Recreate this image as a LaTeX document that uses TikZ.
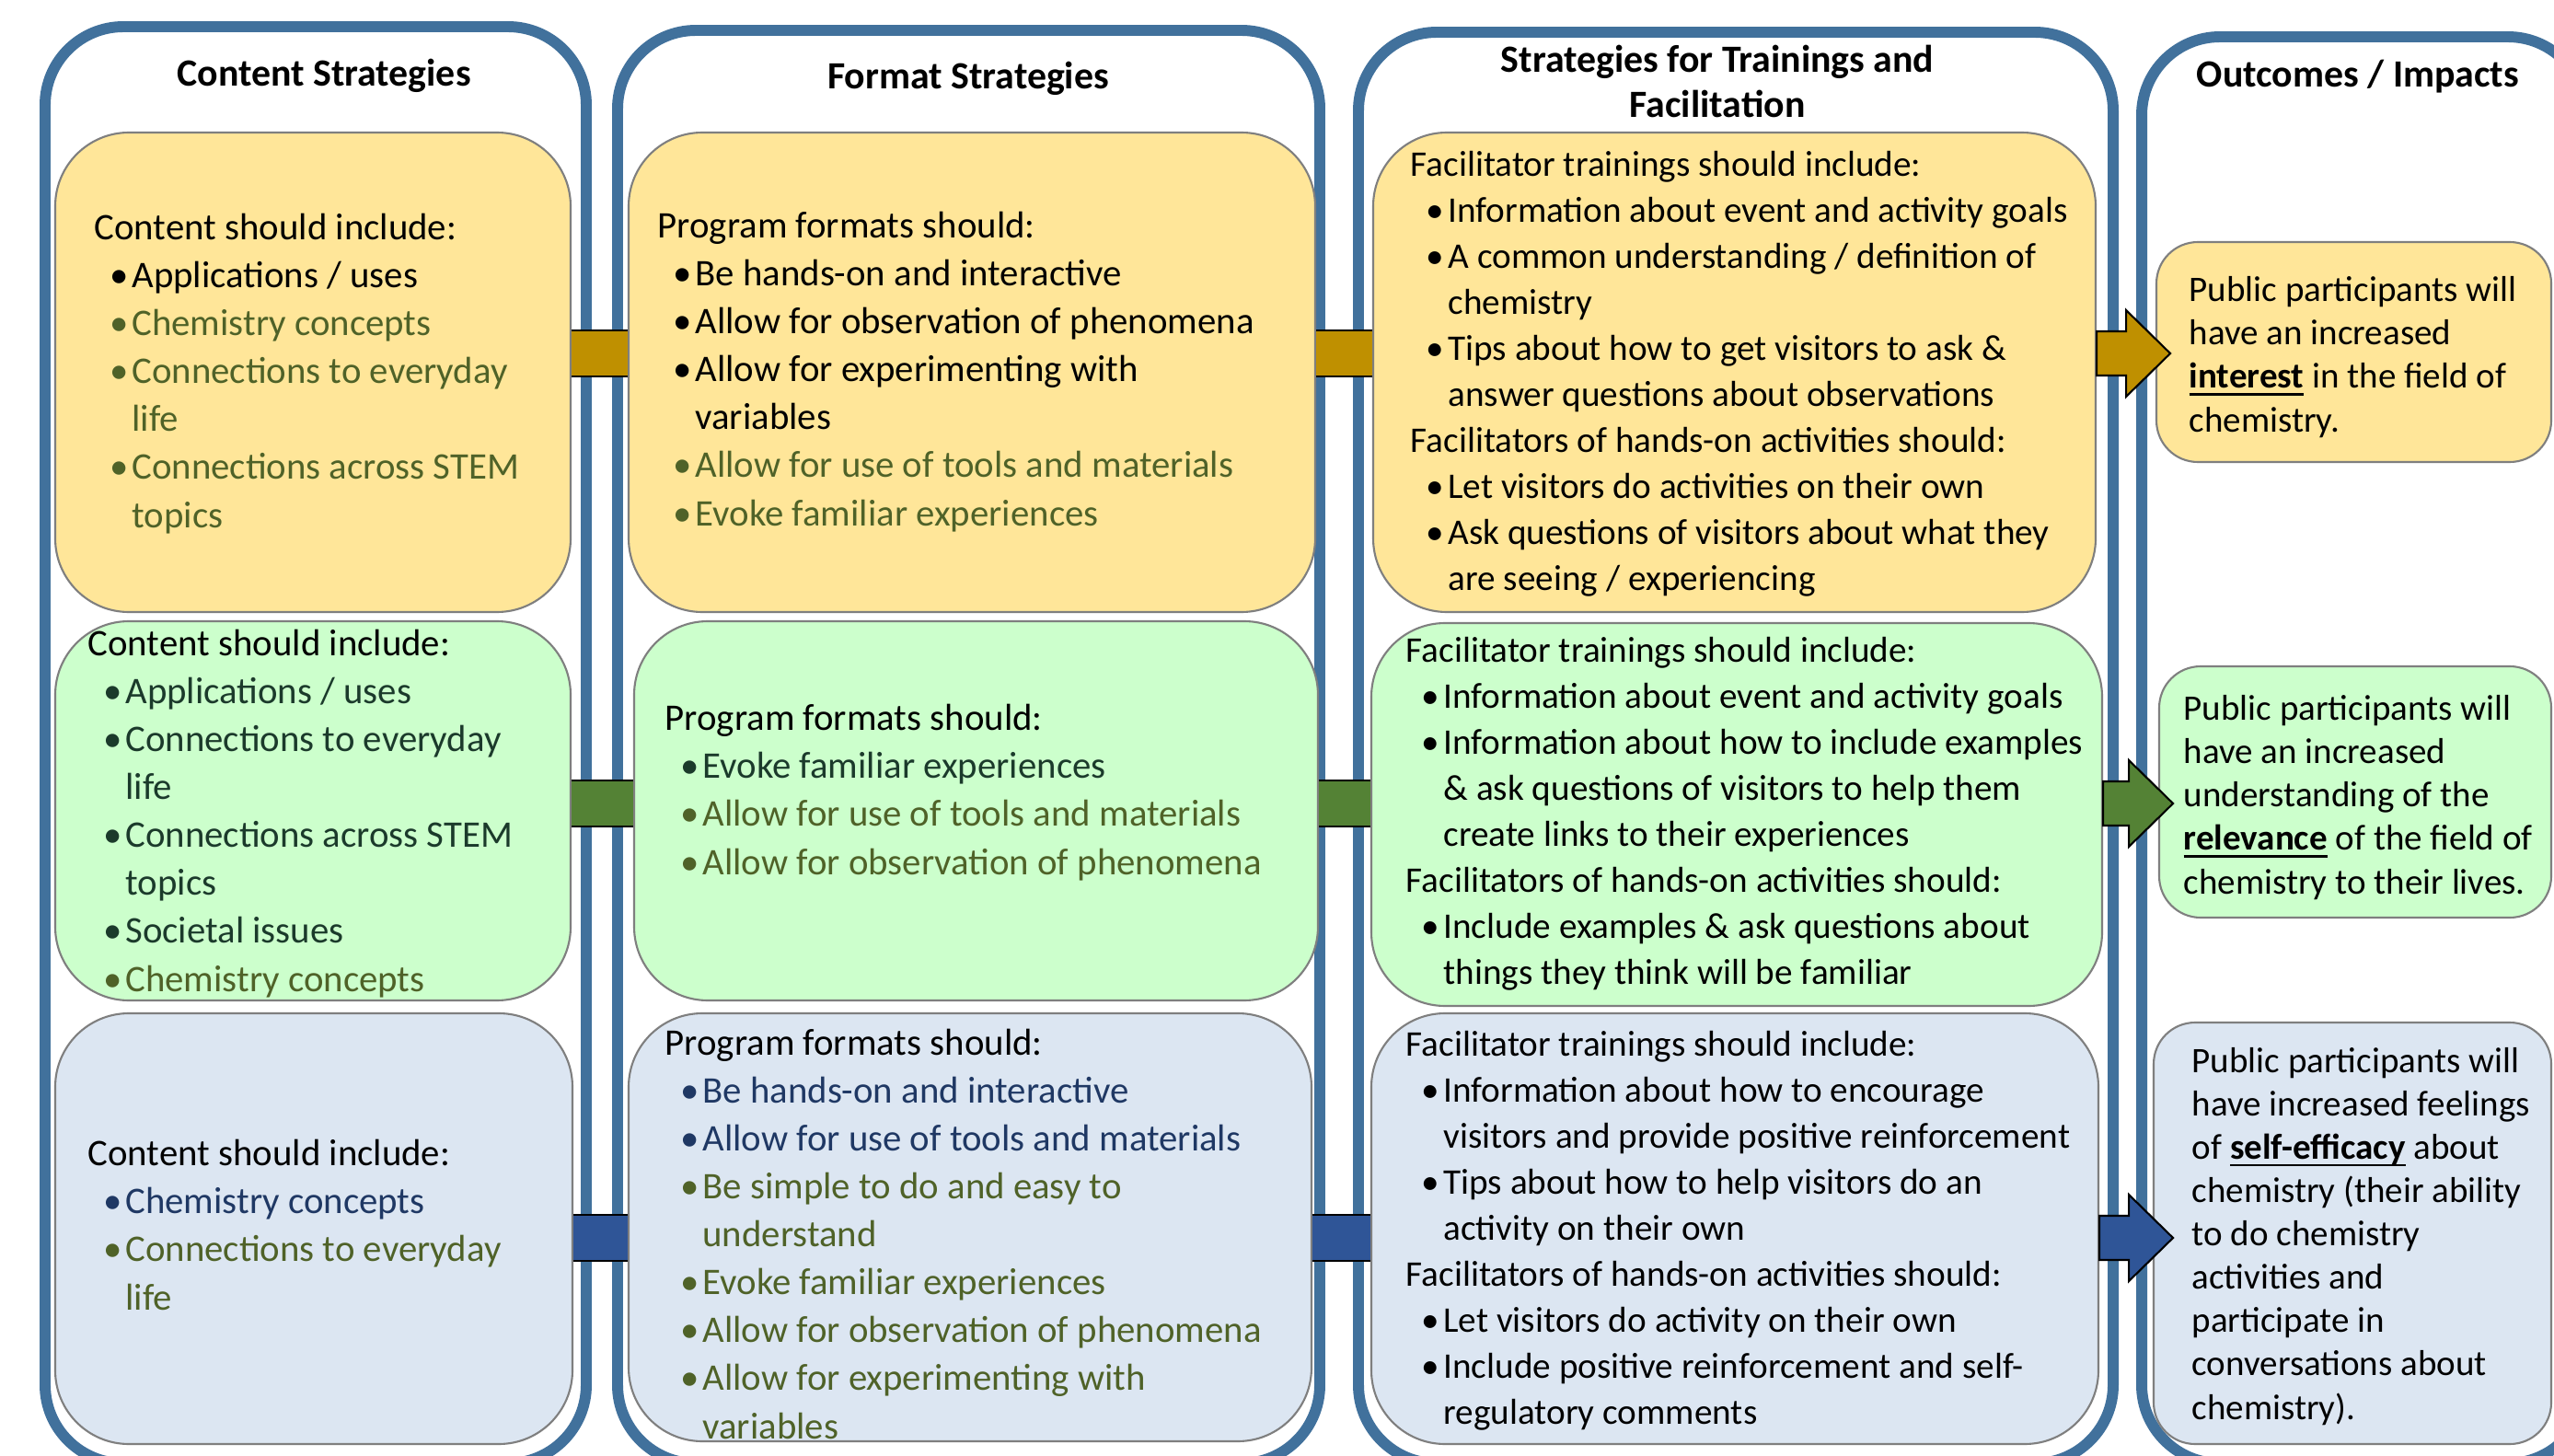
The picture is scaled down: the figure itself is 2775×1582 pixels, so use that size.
\documentclass[tikz,border=0pt]{standalone}
\usepackage{fontspec}
\setmainfont{Carlito}
\usetikzlibrary{fit}

\definecolor{colblue}{HTML}{41719C}
\definecolor{yelfill}{HTML}{FFE699}
\definecolor{grnfill}{HTML}{CCFFCC}
\definecolor{blufill}{HTML}{DCE6F2}
\definecolor{boxline}{HTML}{7F7F7F}
\definecolor{goldbar}{HTML}{BF9000}
\definecolor{greenbar}{HTML}{548235}
\definecolor{bluebar}{HTML}{2F5597}
\definecolor{olivetxt}{HTML}{4F6228}
\definecolor{dkgrntxt}{HTML}{1B3A2B}
\definecolor{navytxt}{HTML}{1F3864}

\newcommand{\bl}[1]{\hspace*{4.8pt}\makebox[6.8pt][l]{\textbullet}#1}
\newcommand{\cl}[1]{\hspace*{11.6pt}#1}
\newsavebox{\kwbox}
\newcommand{\keyw}[1]{\sbox{\kwbox}{\textbf{#1}}\usebox{\kwbox}\llap{\rule[-2.2pt]{\wd\kwbox}{0.7pt}}}

\begin{document}
\begin{tikzpicture}[x=0.01cm,y=-0.01cm]
\tikzstyle{every node}+=[inner sep=0pt]
\tikzstyle{column}=[draw=colblue, line width=3.4pt, fill=white, rounded corners=0.85cm]
\tikzstyle{rbox}=[draw=boxline, line width=0.6pt, rounded corners=0.8cm]
\tikzstyle{obox}=[draw=boxline, line width=0.6pt, rounded corners=0.45cm]
\tikzstyle{title}=[font=\fontsize{11.9pt}{14pt}\selectfont\bfseries]
% multi-line nodes: anchor = baseline of the last line
\tikzstyle{txt}=[align=left, anchor=base west, font=\fontsize{11.6pt}{14.8pt}\selectfont]
\tikzstyle{ftxt}=[align=left, anchor=base west, font=\fontsize{11.15pt}{14.2pt}\selectfont]
\tikzstyle{otxt}=[align=left, anchor=base west, font=\fontsize{11.1pt}{13.4pt}\selectfont]
\tikzstyle{bar}=[draw=black, line width=0.6pt, double distance=13.66pt]
\tikzstyle{arr}=[draw=black, line width=0.6pt]
\useasboundingbox (0,0) rectangle (2775,1582);
\clip (0,0) rectangle (2775,1582);
\fill[white] (0,0) rectangle (2775,1582);
% columns
\draw[column] (49,29) rectangle (637,1590);
\draw[column] (671,33) rectangle (1434,1590);
\draw[column] (1476,35) rectangle (2296,1590);
\draw[column] (2327,40) rectangle (2810,1590);
\node[title, anchor=base] (h1) at (352,94) {Content Strategies};
\node[title, anchor=base] (h2) at (1052,97) {Format Strategies};
\node[title, anchor=base, align=center] (h3) at (1866,128) {Strategies for Trainings and\\Facilitation};
\node[title, anchor=base] (h4) at (2562,95) {Outcomes / Impacts};
% boxes
\node[rbox, fill=yelfill, fit={(60,144) (620,665)}] (c1r1) {};
\node[rbox, fill=yelfill, fit={(683,144) (1429,665)}] (c2r1) {};
\node[rbox, fill=yelfill, fit={(1492,144) (2277,665)}] (c3r1) {};
\node[obox, fill=yelfill, fit={(2343,263) (2772,502)}] (c4r1) {};
\node[rbox, fill=grnfill, fit={(60,675) (620,1087)}] (c1r2) {};
\node[rbox, fill=grnfill, fit={(689,675) (1432,1087)}] (c2r2) {};
\node[rbox, fill=grnfill, fit={(1490,677) (2284,1093)}] (c3r2) {};
\node[obox, fill=grnfill, fit={(2346,724) (2772,997)}] (c4r2) {};
\node[rbox, fill=blufill, fit={(60,1101) (622,1569)}] (c1r3) {};
\node[rbox, fill=blufill, fit={(683,1101) (1425,1566)}] (c2r3) {};
\node[rbox, fill=blufill, fit={(1490,1101) (2280,1569)}] (c3r3) {};
\node[obox, fill=blufill, fit={(2340,1111) (2772,1569)}] (c4r3) {};
% connectors
\coordinate (y1) at (0,384);
\coordinate (y2) at (0,873);
\coordinate (y3) at (0,1345);
\draw[bar, double=goldbar] (c1r1.east |- y1) -- (c2r1.west |- y1);
\draw[bar, double=goldbar] (c2r1.east |- y1) -- (c3r1.west |- y1);
\draw[bar, double=greenbar] (c1r2.east |- y2) -- (c2r2.west |- y2);
\draw[bar, double=greenbar] (c2r2.east |- y2) -- (c3r2.west |- y2);
\draw[bar, double=bluebar] (c1r3.east |- y3) -- (c2r3.west |- y3);
\draw[bar, double=bluebar] (c2r3.east |- y3) -- (c3r3.west |- y3);
\filldraw[arr, fill=goldbar] (c3r1.east |- y1) ++(0,-24) -- ++(32,0) -- ++(0,-23) -- ++(48,47) -- ++(-48,47) -- ++(0,-23) -- ++(-32,0) -- cycle;
\filldraw[arr, fill=greenbar] (c3r2.east |- y2) ++(0,-24) -- ++(28,0) -- ++(0,-23) -- ++(48,47) -- ++(-48,47) -- ++(0,-23) -- ++(-28,0) -- cycle;
\filldraw[arr, fill=bluebar] (c3r3.east |- y3) ++(0,-24) -- ++(32,0) -- ++(0,-23) -- ++(48,47) -- ++(-48,47) -- ++(0,-23) -- ++(-32,0) -- cycle;
% row 1
\node[txt] (t11) at (102,573) {Content should include:\\
\bl{Applications / uses}\\
\textcolor{olivetxt}{\bl{Chemistry concepts}}\\
\textcolor{olivetxt}{\bl{Connections to everyday}}\\
\textcolor{olivetxt}{\cl{life}}\\
\textcolor{olivetxt}{\bl{Connections across STEM}}\\
\textcolor{olivetxt}{\cl{topics}}};
\node[txt] (t21) at (714,571) {Program formats should:\\
\bl{Be hands-on and interactive}\\
\bl{Allow for observation of phenomena}\\
\bl{Allow for experimenting with}\\
\cl{variables}\\
\textcolor{olivetxt}{\bl{Allow for use of tools and materials}}\\
\textcolor{olivetxt}{\bl{Evoke familiar experiences}}};
\node[ftxt] (t31) at (1532,641) {Facilitator trainings should include:\\
\bl{Information about event and activity goals}\\
\bl{A common understanding / definition of}\\
\cl{chemistry}\\
\bl{Tips about how to get visitors to ask \&}\\
\cl{answer questions about observations}\\
Facilitators of hands-on activities should:\\
\bl{Let visitors do activities on their own}\\
\bl{Ask questions of visitors about what they}\\
\cl{are seeing / experiencing}};
\node[otxt] (t41) at (2378,469) {Public participants will\\
have an increased\\
\keyw{interest} in the field of\\
chemistry.};
% row 2
\node[txt] (t12) at (95,1077) {Content should include:\\
\textcolor{dkgrntxt}{\bl{Applications / uses}}\\
\textcolor{dkgrntxt}{\bl{Connections to everyday}}\\
\textcolor{dkgrntxt}{\cl{life}}\\
\textcolor{dkgrntxt}{\bl{Connections across STEM}}\\
\textcolor{dkgrntxt}{\cl{topics}}\\
\textcolor{dkgrntxt}{\bl{Societal issues}}\\
\textcolor{olivetxt}{\bl{Chemistry concepts}}};
\node[txt] (t22) at (722,950) {Program formats should:\\
\textcolor{dkgrntxt}{\bl{Evoke familiar experiences}}\\
\textcolor{olivetxt}{\bl{Allow for use of tools and materials}}\\
\textcolor{olivetxt}{\bl{Allow for observation of phenomena}}};
\node[ftxt] (t32) at (1527,1069) {Facilitator trainings should include:\\
\bl{Information about event and activity goals}\\
\bl{Information about how to include examples}\\
\cl{\& ask questions of visitors to help them}\\
\cl{create links to their experiences}\\
Facilitators of hands-on activities should:\\
\bl{Include examples \& ask questions about}\\
\cl{things they think will be familiar}};
\node[otxt] (t42) at (2372,971) {Public participants will\\
have an increased\\
understanding of the\\
\keyw{relevance} of the field of\\
chemistry to their lives.};
% row 3
\node[txt] (t13) at (95,1423) {Content should include:\\
\textcolor{navytxt}{\bl{Chemistry concepts}}\\
\textcolor{olivetxt}{\bl{Connections to everyday}}\\
\textcolor{olivetxt}{\cl{life}}};
\node[txt] (t23) at (722,1563) {Program formats should:\\
\textcolor{navytxt}{\bl{Be hands-on and interactive}}\\
\textcolor{navytxt}{\bl{Allow for use of tools and materials}}\\
\textcolor{olivetxt}{\bl{Be simple to do and easy to}}\\
\textcolor{olivetxt}{\cl{understand}}\\
\textcolor{olivetxt}{\bl{Evoke familiar experiences}}\\
\textcolor{olivetxt}{\bl{Allow for observation of phenomena}}\\
\textcolor{olivetxt}{\bl{Allow for experimenting with}}\\
\textcolor{olivetxt}{\cl{variables}}};
\node[ftxt] (t33) at (1527,1547) {Facilitator trainings should include:\\
\bl{Information about how to encourage}\\
\cl{visitors and provide positive reinforcement}\\
\bl{Tips about how to help visitors do an}\\
\cl{activity on their own}\\
Facilitators of hands-on activities should:\\
\bl{Let visitors do activity on their own}\\
\bl{Include positive reinforcement and self-}\\
\cl{regulatory comments}};
\node[otxt] (t43) at (2381,1542) {Public participants will\\
have increased feelings\\
of \keyw{self-efficacy} about\\
chemistry (their ability\\
to do chemistry\\
activities and\\
participate in\\
conversations about\\
chemistry).};
\end{tikzpicture}
\end{document}
